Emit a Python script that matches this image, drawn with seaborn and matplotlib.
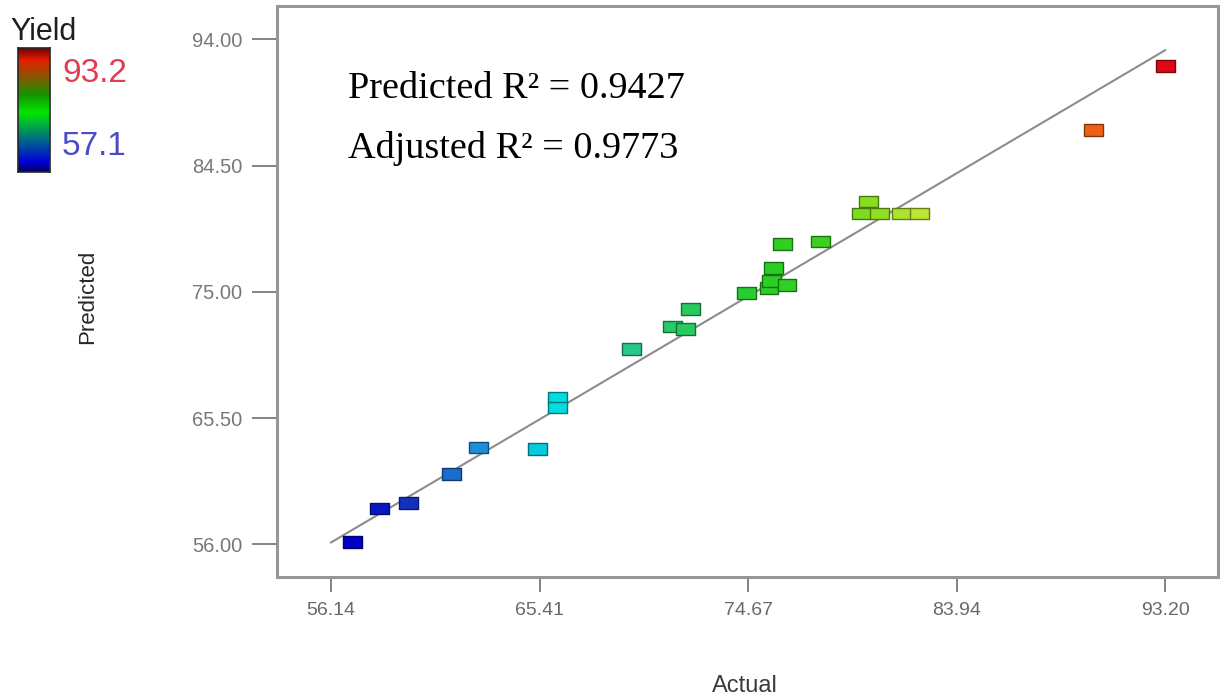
import numpy as np
import pandas as pd
import matplotlib
matplotlib.use("Agg")
import matplotlib.pyplot as plt
import seaborn as sns
from matplotlib.colors import LinearSegmentedColormap, Normalize
from matplotlib.markers import MarkerStyle
from matplotlib.path import Path

# Actual vs predicted yield for each experimental run
actual = [57.1, 58.3, 59.6, 61.5, 62.7, 65.3, 66.2, 66.2, 69.5, 71.3, 71.9, 72.1, 74.6,
          75.6, 75.7, 76.4, 75.8, 76.2, 77.9, 80.0, 79.7, 80.5, 81.5, 82.3, 90.0, 93.2]
predicted = [56.2, 58.7, 59.1, 61.3, 63.3, 63.2, 67.0, 66.3, 70.7, 72.4, 72.2, 73.7, 74.9,
             75.3, 75.8, 75.5, 76.8, 78.6, 78.8, 81.8, 80.9, 80.9, 80.9, 80.9, 87.2, 92.0]

yield_min, yield_max = 57.1, 93.2
x_ticks = [56.14, 65.41, 74.67, 83.94, 93.20]
y_ticks = [56.00, 65.50, 75.00, 84.50, 94.00]
ref_line = [56.14, 93.20]
stats_lines = ["Predicted R\u00b2 = 0.9427", "Adjusted R\u00b2 = 0.9773"]

df = pd.DataFrame({"Actual": actual, "Predicted": predicted})

sns.set_theme(style="white")
plt.rcParams["font.family"] = ["Liberation Sans", "DejaVu Sans"]

def rgb(*c):
    return tuple(v / 255 for v in c)

point_cmap = LinearSegmentedColormap.from_list("yield_pts", [
    (0.00, rgb(0, 0, 200)), (0.07, rgb(20, 50, 190)), (0.15, rgb(30, 140, 215)),
    (0.25, rgb(0, 220, 225)), (0.34, rgb(40, 200, 140)), (0.50, rgb(40, 205, 40)),
    (0.58, rgb(60, 210, 30)), (0.63, rgb(130, 220, 30)), (0.70, rgb(190, 230, 50)),
    (0.80, rgb(240, 190, 40)), (0.91, rgb(240, 100, 20)), (1.00, rgb(220, 10, 20))])

bar_cmap = LinearSegmentedColormap.from_list("yield_bar", [
    (0.00, rgb(0, 0, 90)), (0.08, rgb(0, 0, 220)), (0.25, rgb(0, 100, 140)),
    (0.48, rgb(0, 230, 0)), (0.62, rgb(20, 150, 0)), (0.76, rgb(130, 90, 0)),
    (0.90, rgb(230, 30, 0)), (1.00, rgb(120, 0, 0))])

fig = plt.figure(figsize=(12.22, 6.98), dpi=100)
ax = fig.add_axes([277 / 1222, 1 - 577 / 698, 941 / 1222, 571 / 698])

# 1:1 reference line
sns.lineplot(x=ref_line, y=ref_line, ax=ax, color=rgb(140, 140, 140), lw=1.5, zorder=1)

# flat rectangular markers
rect = Path([(-0.5, -0.31), (0.5, -0.31), (0.5, 0.31), (-0.5, 0.31), (-0.5, -0.31)],
            [Path.MOVETO, Path.LINETO, Path.LINETO, Path.LINETO, Path.CLOSEPOLY])
sns.scatterplot(data=df, x="Actual", y="Predicted", hue="Actual", palette=point_cmap,
                hue_norm=(yield_min, yield_max), marker=MarkerStyle(rect), s=185,
                legend=False, ax=ax, zorder=3, linewidth=1.0)
norm = Normalize(yield_min, yield_max)
face = point_cmap(norm(np.array(actual)))
edge = face.copy()
edge[:, :3] *= 0.55
ax.collections[-1].set_edgecolor(edge)

ax.set_xlim(53.75, 95.54)
ax.set_ylim(53.55, 96.52)
ax.set_xticks(x_ticks)
ax.set_yticks(y_ticks)
ax.set_xticklabels([f"{v:.2f}" for v in x_ticks])
ax.set_yticklabels([f"{v:.2f}" for v in y_ticks])
ax.tick_params(axis="x", direction="out", length=11, width=1.2, pad=7,
               color=rgb(110, 110, 110), labelcolor=rgb(105, 105, 105), labelsize=14, bottom=True)
ax.tick_params(axis="y", direction="out", length=18, width=1.2, pad=7,
               color=rgb(110, 110, 110), labelcolor=rgb(120, 120, 120), labelsize=14.5, left=True)
for sp in ax.spines.values():
    sp.set_color(rgb(150, 150, 150))
    sp.set_linewidth(2.2)

ax.set_xlabel("Actual", fontsize=17, color=rgb(60, 60, 60))
ax.set_ylabel("Predicted", fontsize=16, color=rgb(40, 40, 40))
ax.xaxis.set_label_coords(0.497, -0.172)
ax.yaxis.set_label_coords(-0.19, 0.49)

for txt, yy in zip(stats_lines, [0.839, 0.734]):
    ax.text(0.0755, yy, txt, transform=ax.transAxes, fontsize=27.5,
            family=["Liberation Serif", "DejaVu Serif"], color="black", va="baseline", ha="left")

# colour key
cax = fig.add_axes([18 / 1222, 1 - 172 / 698, 32 / 1222, 124 / 698])
grad = np.linspace(0, 1, 256).reshape(-1, 1)
cax.imshow(grad, aspect="auto", cmap=bar_cmap, origin="lower")
cax.set_xticks([])
cax.set_yticks([])
for sp in cax.spines.values():
    sp.set_color(rgb(40, 40, 40))
    sp.set_linewidth(1.2)

fig.text(10 / 1222, 1 - 40 / 698, "Yield", fontsize=22, color=rgb(30, 30, 30), va="baseline")
fig.text(62 / 1222, 1 - 82 / 698, f"{yield_max:.1f}", fontsize=24, color=rgb(225, 60, 80), va="baseline")
fig.text(62 / 1222, 1 - 155 / 698, f"{yield_min:.1f}", fontsize=24, color=rgb(75, 75, 200), va="baseline")

fig.savefig("out.png", dpi=100, facecolor="white")
